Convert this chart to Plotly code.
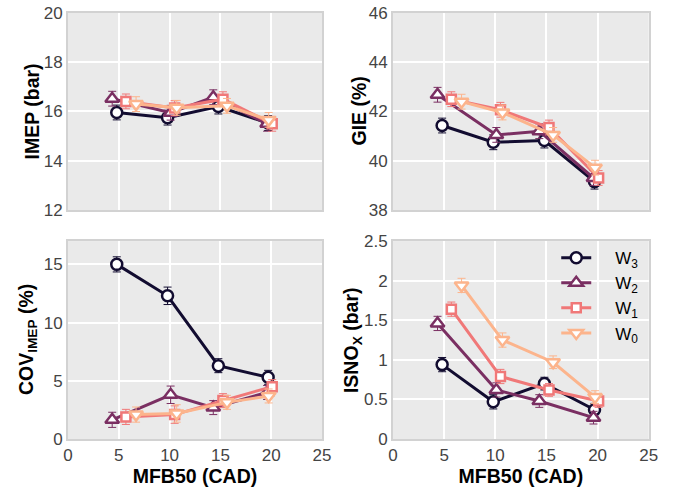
import plotly.graph_objects as go

series_names = ["W<sub>3</sub>", "W<sub>2</sub>", "W<sub>1</sub>", "W<sub>0</sub>"]
series_colors = ["#120c30", "#7a2f62", "#f07878", "#fcb48c"]
series_symbols = ["circle", "triangle-up", "square", "triangle-down"]
series_sizes = [11, 12, 9, 12]

# MFB50 (CAD) per series
mfb50_w3 = [4.8, 9.8, 14.8, 19.7]
mfb50_w2 = [4.35, 10.1, 14.3, 19.6]
mfb50_w1 = [5.7, 10.5, 15.25, 20.1]
mfb50_w0 = [6.7, 10.7, 15.65, 19.75]

# IMEP (bar)
imep_w3 = [15.96, 15.75, 16.2, 15.53]
imep_w2 = [16.52, 15.95, 16.58, 15.5]
imep_w1 = [16.41, 16.14, 16.5, 15.5]
imep_w0 = [16.3, 16.15, 16.23, 15.66]
imep_err = [0.3, 0.3, 0.3, 0.3]

# GIE (%)
gie_w3 = [41.43, 40.75, 40.82, 39.15]
gie_w2 = [42.68, 41.05, 41.2, 39.3]
gie_w1 = [42.5, 42.07, 41.35, 39.3]
gie_w0 = [42.4, 41.96, 41.05, 39.72]
gie_err = [0.3, 0.3, 0.3, 0.3]

# COV IMEP (%)
cov_w3 = [15.0, 12.3, 6.3, 5.3]
cov_w2 = [1.65, 3.8, 2.7, 4.0]
cov_w1 = [1.9, 2.1, 3.3, 4.5]
cov_w0 = [2.1, 2.2, 3.15, 3.7]
cov_err = [0.65, 0.75, 0.6, 0.6]

# ISNOx (bar)
isnox_w3 = [0.94, 0.47, 0.7, 0.37]
isnox_w2 = [1.46, 0.62, 0.48, 0.27]
isnox_w1 = [1.64, 0.79, 0.62, 0.48]
isnox_w0 = [1.94, 1.25, 0.97, 0.53]
isnox_err = [0.09, 0.09, 0.08, 0.08]

y_titles = ["IMEP (bar)", "GIE (%)", "COV<sub>IMEP</sub> (%)", "ISNO<sub>X</sub> (bar)"]
x_title = "MFB50 (CAD)"

mfb50 = [mfb50_w3, mfb50_w2, mfb50_w1, mfb50_w0]
panels = [
    ([imep_w3, imep_w2, imep_w1, imep_w0], imep_err, "x", "y"),
    ([gie_w3, gie_w2, gie_w1, gie_w0], gie_err, "x2", "y2"),
    ([cov_w3, cov_w2, cov_w1, cov_w0], cov_err, "x3", "y3"),
    ([isnox_w3, isnox_w2, isnox_w1, isnox_w0], isnox_err, "x4", "y4"),
]

fig = go.Figure()
for p, (vals, err, xa, ya) in enumerate(panels):
    for i in range(4):
        fig.add_trace(go.Scatter(
            x=mfb50[i], y=vals[i], xaxis=xa, yaxis=ya,
            mode="lines+markers", name="&nbsp;&nbsp;&nbsp;&nbsp;" + series_names[i],
            showlegend=(p == 3),
            line=dict(color=series_colors[i], width=3),
            marker=dict(symbol=series_symbols[i], size=series_sizes[i], color="white",
                        line=dict(color=series_colors[i], width=2.5)),
            error_y=dict(type="data", array=err, color=series_colors[i],
                         thickness=1, width=4),
        ))

font_family = "Liberation Sans, Arial, sans-serif"
tick_font = dict(family=font_family, size=17, color="#444444")
title_font = dict(family=font_family, size=19.5, color="black")

W, H = 680, 490
xl = [0.1, 0.4735]
xr = [0.578, 0.954]
yt = [0.5714, 0.9735]
yb = [0.104, 0.508]

def xaxis(domain, anchor, show_labels, title=None):
    return dict(domain=domain, anchor=anchor, range=[0, 25], dtick=5, tick0=0,
                showticklabels=show_labels, tickfont=tick_font,
                showgrid=True, gridcolor="white", gridwidth=2,
                zeroline=False, showline=True, linecolor="#d2d2d2", linewidth=2,
                mirror=True, ticks="", automargin=False,
                title=dict(text="<b>%s</b>" % title if title else "", font=title_font, standoff=5))

def yaxis(domain, anchor, rng, dtick):
    return dict(domain=domain, anchor=anchor, range=rng, dtick=dtick,
                tickfont=tick_font, showgrid=True, gridcolor="white", gridwidth=2,
                zeroline=False, showline=True, linecolor="#d2d2d2", linewidth=2,
                mirror=True, ticks="", automargin=False)

# y-axis titles as rotated annotations (pixel centres)
title_pos = [(32, yt), (359, yt), (27, yb), (352, yb)]
annotations = []
for t, (px, dom) in zip(y_titles, title_pos):
    annotations.append(dict(text="<b>%s</b>" % t, x=px / W, y=(dom[0] + dom[1]) / 2,
                            xref="paper", yref="paper", xanchor="center", yanchor="middle",
                            textangle=-90, showarrow=False, font=title_font))

fig.update_layout(
    width=W, height=H,
    margin=dict(l=0, r=0, t=0, b=0),
    paper_bgcolor="white", plot_bgcolor="#eaeaea",
    font=dict(family=font_family),
    xaxis=xaxis(xl, "y", False),
    yaxis=yaxis(yt, "x", [12, 20], 2),
    xaxis2=xaxis(xr, "y2", False),
    yaxis2=yaxis(yt, "x2", [38, 46], 2),
    xaxis3=xaxis(xl, "y3", True, x_title),
    yaxis3=yaxis(yb, "x3", [0, 17], 5),
    xaxis4=xaxis(xr, "y4", True, x_title),
    yaxis4=yaxis(yb, "x4", [0, 2.5], 0.5),
    annotations=annotations,
    legend=dict(x=0.818, y=0.51, xanchor="left", yanchor="top",
                bgcolor="rgba(0,0,0,0)", font=dict(family=font_family, size=17, color="black"),
                tracegroupgap=0, itemwidth=30),
    showlegend=True,
)

fig.write_html("out.html")
